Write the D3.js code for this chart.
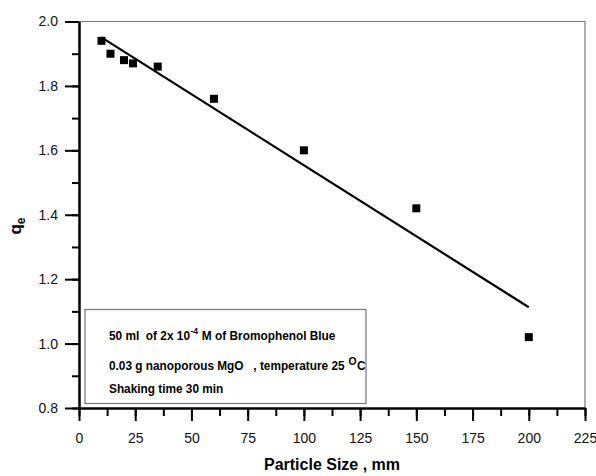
<!DOCTYPE html>
<html>
<head>
<meta charset="utf-8">
<script src="https://cdn.jsdelivr.net/npm/d3@7"></script>
<style>
  body { margin: 0; background: #fff; }
  svg { display: block; font-family: "Liberation Sans", Arial, sans-serif; }
</style>
</head>
<body>
<div id="chart"></div>
<script>
// particle size (mm) vs qe
var particleSize = [10, 14, 20, 24, 35, 60, 100, 150, 200];
var qe = [1.94, 1.90, 1.88, 1.87, 1.86, 1.76, 1.60, 1.42, 1.02];
var xTicks = [0, 25, 50, 75, 100, 125, 150, 175, 200, 225];
var yTicks = [0.8, 1.0, 1.2, 1.4, 1.6, 1.8, 2.0];

var width = 596, height = 476;
var margin = {top: 21.5, right: 11, bottom: 68, left: 79};
var w = width - margin.left - margin.right;
var h = height - margin.top - margin.bottom;

var svg = d3.select('#chart').append('svg')
    .attr('width', width)
    .attr('height', height);

var g = svg.append('g')
    .attr('transform', 'translate(' + margin.left + ',' + margin.top + ')');

var x = d3.scaleLinear().domain([0, 225]).range([0, w]);
var y = d3.scaleLinear().domain([0.8, 2.0]).range([h, 0]);

// frame top/right (gray)
g.append('line').attr('x1', 0).attr('x2', w).attr('y1', 0).attr('y2', 0)
    .attr('stroke', '#777').attr('stroke-width', 1.2);
g.append('line').attr('x1', w).attr('x2', w).attr('y1', 0).attr('y2', h)
    .attr('stroke', '#777').attr('stroke-width', 1.2);

// minor ticks
var xMinor = d3.range(0, 226, 12.5);
var yMinor = d3.range(8, 21).map(function(d) { return d / 10; });

g.append('g').attr('transform', 'translate(0,' + h + ')')
    .call(d3.axisBottom(x).tickValues(xMinor).tickSize(8).tickSizeOuter(0).tickFormat(''))
    .call(function(s) { s.select('.domain').remove(); s.selectAll('line').attr('stroke-width', 2); });
g.append('g')
    .call(d3.axisLeft(y).tickValues(yMinor).tickSize(7).tickSizeOuter(0).tickFormat(''))
    .call(function(s) { s.select('.domain').remove(); s.selectAll('line').attr('stroke-width', 2); });

// major axes
var xAxis = g.append('g').attr('transform', 'translate(0,' + h + ')')
    .call(d3.axisBottom(x).tickValues(xTicks).tickSize(13).tickSizeOuter(0).tickPadding(12));
var yAxis = g.append('g')
    .call(d3.axisLeft(y).tickValues(yTicks).tickSize(14).tickSizeOuter(0).tickPadding(7)
        .tickFormat(d3.format('.1f')));

[xAxis, yAxis].forEach(function(a) {
    a.select('.domain').attr('stroke', '#000').attr('stroke-width', 2.5);
    a.selectAll('.tick line').attr('stroke', '#000').attr('stroke-width', 2);
    a.selectAll('.tick text').attr('fill', '#111').style('font-size', '14px')
        .style('font-family', '"Liberation Sans", Arial, sans-serif');
});

// linear fit
var mx = d3.mean(particleSize), my = d3.mean(qe);
var sxy = d3.sum(particleSize, function(d, i) { return (d - mx) * (qe[i] - my); });
var sxx = d3.sum(particleSize, function(d) { return (d - mx) * (d - mx); });
var slope = sxy / sxx, icpt = my - slope * mx;
var xr = d3.extent(particleSize);

g.append('line')
    .attr('x1', x(xr[0])).attr('y1', y(icpt + slope * xr[0]))
    .attr('x2', x(xr[1])).attr('y2', y(icpt + slope * xr[1]))
    .attr('stroke', '#000').attr('stroke-width', 2.2);

// points
g.selectAll('rect.pt')
    .data(particleSize)
    .enter().append('rect')
    .attr('class', 'pt')
    .attr('x', function(d) { return x(d) - 4; })
    .attr('y', function(d, i) { return y(qe[i]) - 4; })
    .attr('width', 8).attr('height', 8)
    .attr('fill', '#000');

// info box
var box = svg.append('g').attr('transform', 'translate(85,309.5)');
box.append('rect').attr('width', 281).attr('height', 94)
    .attr('fill', '#fff').attr('stroke', '#777').attr('stroke-width', 1.2);

// each line: list of [text, fontSize, rise], squeezed to the reference width
function infoLine(parts, y0, target) {
    var lg = box.append('g').attr('font-weight', 'bold').attr('fill', '#000');
    var cx = 0;
    parts.forEach(function(p) {
        var t = lg.append('text').attr('x', cx).attr('y', y0 - p[2])
            .attr('font-size', p[1] + 'px').text(p[0]);
        cx += t.node().getComputedTextLength() + 0.5;
    });
    lg.attr('transform', 'translate(24,0) scale(' + (target / cx) + ',1)');
}
infoLine([['50 ml\u00a0 of 2x 10', 12.5, 0], ['-4', 9, 6], ['\u00a0M of Bromophenol Blue', 12.5, 0]], 30.5, 227);
infoLine([['0.03 g nanoporous MgO\u00a0\u00a0 , temperature 25\u00a0', 12.5, 0], ['O', 11, 5], ['C', 12.5, 0]], 60.5, 257);
infoLine([['Shaking time 30 min', 12.5, 0]], 84, 115);

// axis titles
svg.append('text')
    .attr('x', margin.left + w / 2).attr('y', 470)
    .attr('text-anchor', 'middle')
    .attr('font-size', '16px').attr('font-weight', 'bold')
    .text('Particle Size , mm');

var yt = svg.append('text')
    .attr('transform', 'translate(21,226) rotate(-90)')
    .attr('text-anchor', 'middle')
    .attr('font-size', '17px').attr('font-weight', 'bold');
yt.append('tspan').text('q');
yt.append('tspan').attr('dy', 4).attr('font-size', '12px').text('e');
</script>
</body>
</html>
